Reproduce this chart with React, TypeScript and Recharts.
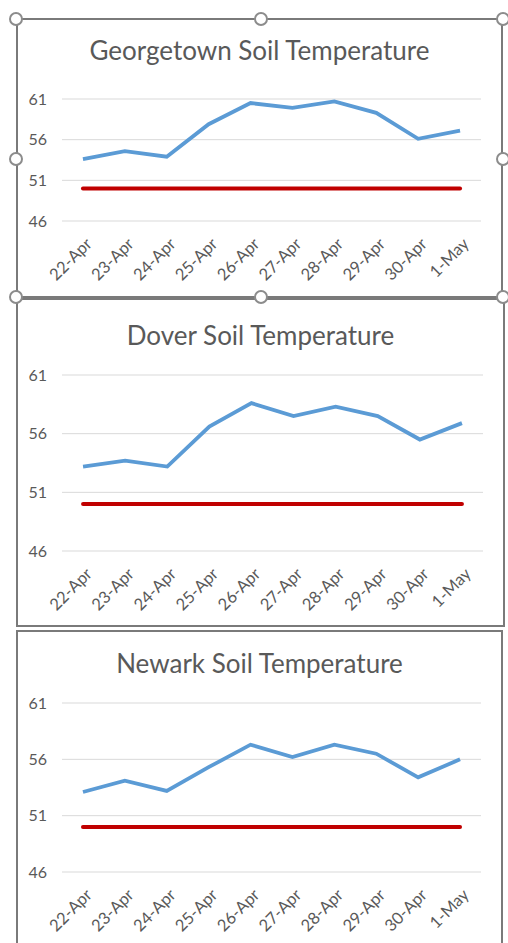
import { CartesianGrid, Line, LineChart, XAxis, YAxis } from "recharts";

const dates = ["22-Apr", "23-Apr", "24-Apr", "25-Apr", "26-Apr", "27-Apr", "28-Apr", "29-Apr", "30-Apr", "1-May"];
const georgetown = [53.6, 54.6, 53.9, 57.9, 60.5, 59.9, 60.7, 59.3, 56.1, 57.1];
const dover = [53.2, 53.7, 53.2, 56.6, 58.6, 57.5, 58.3, 57.5, 55.5, 56.9];
const newark = [53.1, 54.1, 53.2, 55.3, 57.3, 56.2, 57.3, 56.5, 54.4, 56.0];
const threshold = [50, 50, 50, 50, 50, 50, 50, 50, 50, 50];
const yTicks = [46, 51, 56, 61];

const FONT = "Lato, 'Open Sans', sans-serif";
const TEXT = "#595959";

const DateTick = (props: any) => {
  const { x, y, payload } = props;
  return (
    <g transform={`translate(${x + 7},${y + 13})`}>
      <text
        x={0}
        y={0}
        textAnchor="end"
        dominantBaseline="middle"
        fill={TEXT}
        fontSize={16.5}
        fontFamily={FONT}
        transform="rotate(-45)"
      >
        {payload.value}
      </text>
    </g>
  );
};

interface ChartProps {
  title: string;
  values: number[];
  box: { left: number; top: number; width: number; height: number };
  titleY: number;
  plot: { left: number; right: number; top: number; bottom: number };
}

const SoilChart = ({ title, values, box, titleY, plot }: ChartProps) => {
  const data = dates.map((d, i) => ({ date: d, temp: values[i], base: threshold[i] }));
  const h = box.height;
  const top = plot.top - box.top;
  const bottom = h - (plot.bottom - box.top) - 60;
  return (
    <div
      style={{
        position: "absolute",
        left: box.left,
        top: box.top,
        width: box.width,
        height: box.height,
        boxSizing: "border-box",
        border: "2px solid #7a7a7a",
        background: "#fff",
      }}
    >
      <div
        style={{
          position: "absolute",
          left: 0,
          right: 0,
          top: titleY - box.top - 17,
          textAlign: "center",
          fontFamily: FONT,
          fontSize: 26,
          lineHeight: "30px",
          color: TEXT,
        }}
      >
        {title}
      </div>
      <div style={{ position: "absolute", left: -box.left - 2, top: -2 }}>
        <LineChart
          width={508}
          height={h}
          data={data}
          margin={{ top, right: 508 - plot.right, left: 0, bottom }}
        >
          <CartesianGrid horizontal vertical={false} stroke="#d9d9d9" />
          <XAxis
            dataKey="date"
            scale="band"
            tickLine={false}
            axisLine={false}
            height={60}
            interval={0}
            tick={<DateTick />}
          />
          <YAxis
            domain={[46, 61]}
            ticks={yTicks}
            width={plot.left}
            tickLine={false}
            axisLine={false}
            tickMargin={9}
            tick={{ fill: TEXT, fontSize: 16, fontFamily: FONT }}
          />
          <Line type="linear" dataKey="temp" stroke="#5b9bd5" strokeWidth={3.8} dot={false} isAnimationActive={false} />
          <Line
            type="linear"
            dataKey="base"
            stroke="#c00000"
            strokeWidth={4}
            strokeLinecap="round"
            dot={false}
            isAnimationActive={false}
          />
        </LineChart>
      </div>
    </div>
  );
};

const Handle = ({ x, y }: { x: number; y: number }) => (
  <div
    style={{
      position: "absolute",
      left: x - 7,
      top: y - 7,
      width: 14,
      height: 14,
      boxSizing: "border-box",
      borderRadius: "50%",
      border: "2px solid #8c8c8c",
      background: "#fff",
    }}
  />
);

export default function App() {
  return (
    <div style={{ position: "absolute", left: 0, top: 0, width: 508, height: 943, overflow: "hidden", background: "#fff" }}>
      <SoilChart
        title="Newark Soil Temperature"
        values={newark}
        box={{ left: 16, top: 630, width: 487, height: 330 }}
        titleY={663}
        plot={{ left: 62, right: 481, top: 703, bottom: 872 }}
      />
      <SoilChart
        title="Dover Soil Temperature"
        values={dover}
        box={{ left: 16, top: 298, width: 489, height: 329 }}
        titleY={335}
        plot={{ left: 62, right: 483, top: 375, bottom: 551 }}
      />
      <SoilChart
        title="Georgetown Soil Temperature"
        values={georgetown}
        box={{ left: 16, top: 18, width: 487, height: 280 }}
        titleY={50}
        plot={{ left: 62, right: 481, top: 99, bottom: 221 }}
      />
      <Handle x={16} y={19} />
      <Handle x={261} y={19} />
      <Handle x={503} y={19} />
      <Handle x={16} y={159} />
      <Handle x={503} y={159} />
      <Handle x={16} y={297} />
      <Handle x={261} y={297} />
      <Handle x={503} y={297} />
    </div>
  );
}
